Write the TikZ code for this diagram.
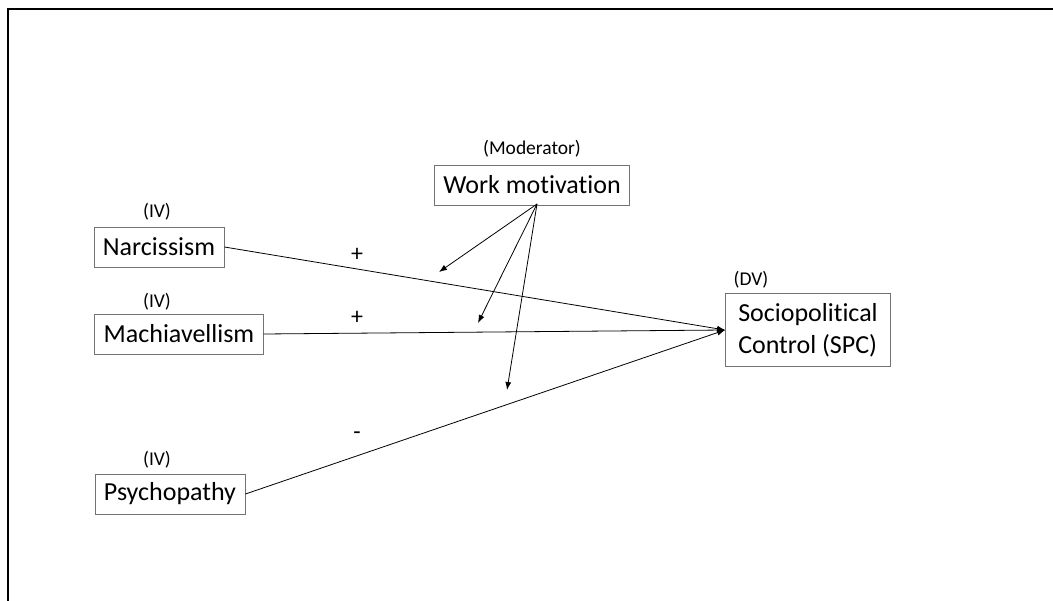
\documentclass[tikz,border=0pt]{standalone}
\usepackage{fontspec}
\setmainfont{Carlito}[Ligatures=NoCommon]
\usetikzlibrary{arrows.meta,positioning}

\begin{document}
\begin{tikzpicture}[
    x=1pt, y=-1pt,
    box/.style = {draw=black!55, line width=0.8pt, inner xsep=9pt, minimum height=40pt,
                  font=\fontsize{26}{32}\selectfont},
    tag/.style = {inner sep=0pt, font=\fontsize{19.5}{23}\selectfont},
    sign/.style = {inner sep=0pt, font=\fontsize{24}{28}\selectfont},
    >={Latex[length=8pt,width=6pt]}, line width=0.8pt
]
\useasboundingbox (0,0) rectangle (1053,601);

% Frame
\draw[line width=2pt] (8,601) -- (8,9) -- (1053,9);

% Independent variables
\node[box] (narc)  at (159,247) {Narcissism};
\node[box] (mach)  at (179,334) {Machiavellism};
\node[box] (psych) at (170,494) {Psychopathy};
\node[tag] (narctag)  at (157,212) {(IV)};
\node[tag] (machtag)  at (157,302) {(IV)};
\node[tag] (psychtag) at (157,460) {(IV)};

% Moderator
\node[box] (work) at (532,185) {Work motivation};
\node[tag] (worktag) [above=7pt of work] {(Moderator)};

% Dependent variable
\node[box, align=left, minimum width=165pt, minimum height=73pt] (spc) at (808,330)
    {Sociopolitical\\Control (SPC)};
\node[tag] (spctag) at (751,280) {(DV)};

% Signs
\node[sign] (plusa)  at (357,255) {+};
\node[sign] (plusb)  at (357,318) {+};
\node[sign] (minus)  at (357,436) {-};

% Edges
\draw[->] (narc.east)  -- (spc.west);
\draw[->] (mach.east)  -- (spc.west);
\draw[->] (psych.east) -- (spc.west);

% Moderating effects
\coordinate (foot) at (537,204);
\coordinate (ma) at (439,272);
\coordinate (mb) at (478,323);
\coordinate (mc) at (507,390);
\draw[->] (foot) -- (ma);
\draw[->] (foot) -- (mb);
\draw[->] (foot) -- (mc);

\end{tikzpicture}
\end{document}
